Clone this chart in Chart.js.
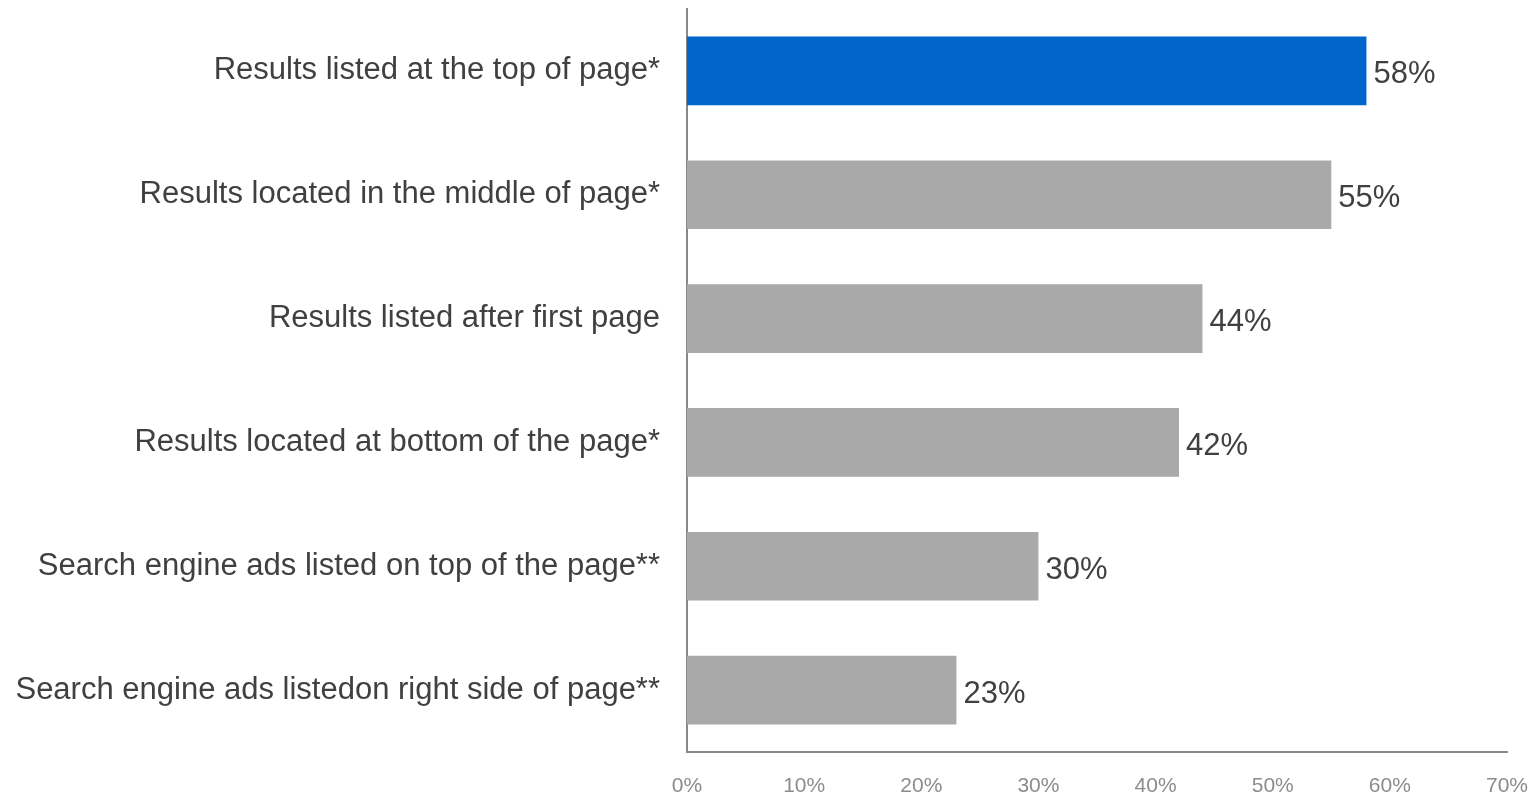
<!DOCTYPE html>
<html>
<head>
<meta charset="utf-8">
<script src="https://cdn.jsdelivr.net/npm/chart.js@4/dist/chart.umd.min.js"></script>
<style>
  html, body { margin: 0; padding: 0; background: #fff; }
  #wrap { width: 1538px; height: 796px; }
</style>
</head>
<body>
<div id="wrap"><canvas id="chart" width="1538" height="796"></canvas></div>
<script>
const labels = [
  'Results listed at the top of page*',
  'Results located in the middle of page*',
  'Results listed after first page',
  'Results located at bottom of the page*',
  'Search engine ads listed on top of the page**',
  'Search engine ads listedon right side of page**'
];
const values = [58, 55, 44, 42, 30, 23];
const barColors = ['#0066CC', '#A9A9A9', '#A9A9A9', '#A9A9A9', '#A9A9A9', '#A9A9A9'];
const xTicks = [0, 10, 20, 30, 40, 50, 60, 70];

const FONT = '"Liberation Sans", Arial, sans-serif';

// value label at the end of each bar
const valueLabels = {
  id: 'valueLabels',
  afterDatasetsDraw(chart) {
    const ctx = chart.ctx;
    const meta = chart.getDatasetMeta(0);
    ctx.save();
    ctx.font = '31px ' + FONT;
    ctx.fillStyle = '#404040';
    ctx.textAlign = 'left';
    ctx.textBaseline = 'middle';
    meta.data.forEach(function(bar, i) {
      ctx.fillText(values[i] + '%', bar.x + 7, bar.y + 4);
    });
    ctx.restore();
  }
};

new Chart(document.getElementById('chart'), {
  type: 'bar',
  data: {
    labels: labels,
    datasets: [{
      data: values,
      backgroundColor: barColors,
      barPercentage: 0.555,
      categoryPercentage: 1.0
    }]
  },
  options: {
    indexAxis: 'y',
    responsive: false,
    animation: false,
    layout: { padding: { top: 9, right: 31, bottom: 0, left: 0 } },
    plugins: {
      legend: { display: false },
      tooltip: { enabled: false }
    },
    scales: {
      x: {
        min: 0,
        max: 70,
        afterBuildTicks(axis) {
          axis.ticks = xTicks.map(function(v) { return { value: v }; });
        },
        grid: { display: false, drawTicks: false },
        border: { display: true, color: '#888888', width: 2 },
        ticks: {
          padding: 22,
          color: '#8C8C8C',
          font: { family: FONT, size: 21 },
          callback: function(v) { return v + '%'; }
        },
        afterFit(axis) {
          axis.height = 44;
          axis.paddingLeft = 0;
          axis.paddingRight = 0;
        }
      },
      y: {
        grid: { display: false, drawTicks: false },
        border: { display: true, color: '#888888', width: 2 },
        ticks: {
          padding: 27,
          color: '#404040',
          font: { family: FONT, size: 31 }
        },
        afterFit(axis) {
          axis.width = 687;
          axis.paddingTop = 0;
          axis.paddingBottom = 0;
        }
      }
    }
  },
  plugins: [valueLabels]
});
</script>
</body>
</html>
